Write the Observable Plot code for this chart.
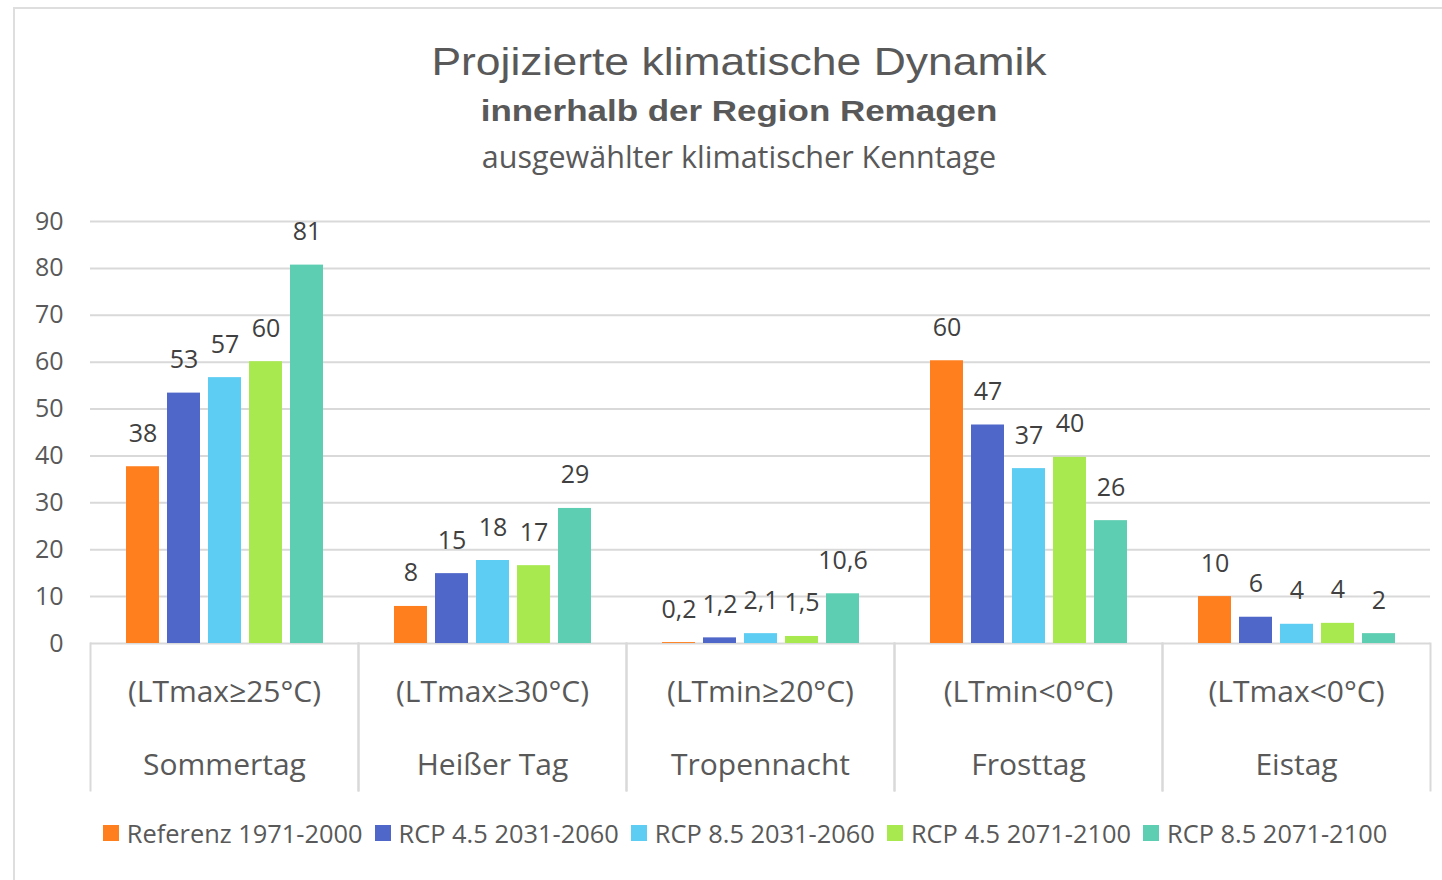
<!DOCTYPE html>
<html><head><meta charset="utf-8">
<script src="https://cdn.jsdelivr.net/npm/d3@7"></script>
<script src="https://cdn.jsdelivr.net/npm/@observablehq/plot@0.6"></script>
<style>
html,body{margin:0;padding:0;background:#fff;}
#wrap{position:relative;width:1442px;height:880px;overflow:hidden;font-family:"Open Sans",sans-serif;color:#595959;}
#border{position:absolute;left:13px;top:7px;width:1480px;height:920px;border:2px solid #dedede;box-sizing:border-box;}
.t{position:absolute;left:0;width:1478px;text-align:center;white-space:nowrap;}
#t1{top:38px;font-family:"Liberation Sans",Arial,sans-serif;font-size:38px;line-height:48px;transform:scaleX(1.17);transform-origin:739px 0;}
#t2{top:92px;font-family:"Liberation Sans",Arial,sans-serif;font-weight:bold;font-size:30px;line-height:38px;transform:scaleX(1.165);transform-origin:739px 0;}
#t3{top:135px;font-size:30.5px;line-height:42px;}
#main{position:absolute;left:0;top:190px;}
#lower{position:absolute;left:0;top:643px;}
#legend{position:absolute;left:0;top:816px;width:1502px;}
#legend .lg-swatches{justify-content:center;}
.lg-swatch{margin-right:12px !important;}
.lg-swatch>svg{margin-right:8px !important;}
</style>
</head><body>
<div id="wrap">
  <div id="border"></div>
  <div class="t" id="t1">Projizierte klimatische Dynamik</div>
  <div class="t" id="t2">innerhalb der Region Remagen</div>
  <div class="t" id="t3">ausgewählter klimatischer Kenntage</div>
  <div id="main"></div>
  <div id="lower"></div>
  <div id="legend"></div>
</div>
<script>
const groups = ["Sommertag", "Heißer Tag", "Tropennacht", "Frosttag", "Eistag"];
const conditions = ["(LTmax≥25°C)", "(LTmax≥30°C)", "(LTmin≥20°C)", "(LTmin<0°C)", "(LTmax<0°C)"];
const series = ["Referenz 1971-2000", "RCP 4.5 2031-2060", "RCP 8.5 2031-2060", "RCP 4.5 2071-2100", "RCP 8.5 2071-2100"];
const colors = ["#FF7F1E", "#4F67C8", "#5DCDF3", "#A8E94F", "#5DCEB1"];
const referenz   = [37.7, 7.9, 0.2, 60.3, 10.0];
const rcp45_2031 = [53.4, 14.9, 1.2, 46.6, 5.6];
const rcp85_2031 = [56.7, 17.7, 2.1, 37.3, 4.1];
const rcp45_2071 = [60.1, 16.6, 1.5, 39.7, 4.3];
const rcp85_2071 = [80.7, 28.8, 10.6, 26.2, 2.1];
const decimalGroups = ["Tropennacht"];
const yTicks = [0, 10, 20, 30, 40, 50, 60, 70, 80, 90];

const seriesValues = [referenz, rcp45_2031, rcp85_2031, rcp45_2071, rcp85_2071];
const rows = [];
groups.forEach((g, i) => seriesValues.forEach((arr, j) => rows.push({group: g, series: series[j], value: arr[i]})));
const cats = groups.map((g, i) => ({group: g, condition: conditions[i]}));
const fmt = d => decimalGroups.includes(d.group) ? d.value.toFixed(1).replace(".", ",") : String(Math.round(d.value));

const baseStyle = {fontFamily: "'Open Sans', sans-serif", color: "#595959", background: "transparent", overflow: "visible"};

const main = Plot.plot({
  width: 1442, height: 460,
  marginLeft: 90, marginRight: 12, marginTop: 31, marginBottom: 7,
  style: {...baseStyle, fontSize: "25px"},
  fx: {domain: groups, padding: 0, axis: null},
  x: {domain: series, paddingInner: 0.2, paddingOuter: 0.85, axis: null},
  y: {domain: [0, 90], ticks: yTicks, tickSize: 0, tickPadding: 27, label: null},
  color: {domain: series, range: colors},
  marks: [
    Plot.gridY(yTicks, {stroke: "#d9d9d9", strokeOpacity: 1, strokeWidth: 2}),
    Plot.barY(rows, {fx: "group", x: "series", y: "value", fill: "series"}),
    Plot.text(rows, {fx: "group", x: "series", y: "value", text: fmt, dy: -33, fill: "#404040", fontSize: 25})
  ]
});
document.getElementById("main").appendChild(main);

const lower = Plot.plot({
  width: 1442, height: 147,
  marginLeft: 90, marginRight: 12, marginTop: 0, marginBottom: 0,
  style: {...baseStyle, fontSize: "30px"},
  fx: {domain: groups, padding: 0, axis: null},
  marks: [
    Plot.frame({anchor: "left", stroke: "#d9d9d9", strokeWidth: 2}),
    Plot.frame({anchor: "right", stroke: "#d9d9d9", strokeWidth: 2}),
    Plot.text(cats, {fx: "group", text: "condition", frameAnchor: "top", dy: 37, fontSize: 30, fill: "#595959"}),
    Plot.text(cats, {fx: "group", text: "group", frameAnchor: "top", dy: 110, fontSize: 30, fill: "#595959"})
  ]
});
document.getElementById("lower").appendChild(lower);

const leg = main.legend("color", {swatchSize: 16, className: "lg", style: {fontFamily: "'Open Sans', sans-serif", fontSize: "25.4px", color: "#595959"}});
document.getElementById("legend").appendChild(leg);
</script>
</body></html>
